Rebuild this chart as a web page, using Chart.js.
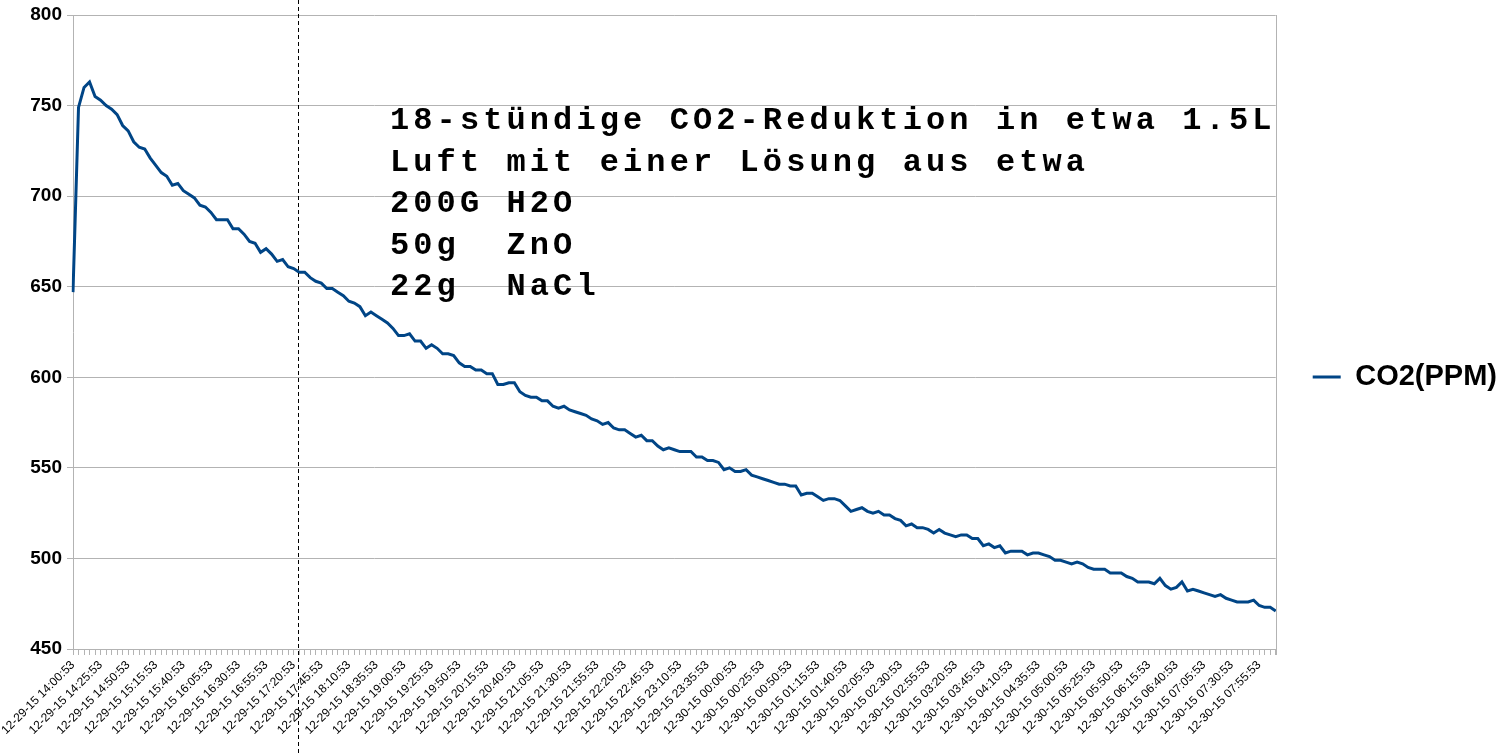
<!DOCTYPE html>
<html>
<head>
<meta charset="utf-8">
<title>CO2-Reduktion</title>
<script src="https://cdn.jsdelivr.net/npm/chart.js@4.4.0/dist/chart.umd.min.js"></script>
<style>
  html, body { margin: 0; padding: 0; background: #fff; }
  #wrap { position: relative; width: 1508px; height: 755px; }
</style>
</head>
<body>
<div id="wrap"><canvas id="co2Chart"></canvas></div>
<script>
// --- Daten (alle 5 Minuten ein Messwert) ---
const seriesName = 'CO2(PPM)';
const co2Values = [
  647, 749, 760, 763, 755, 753, 750, 748, 745, 739,
  736, 730, 727, 726, 721, 717, 713, 711, 706, 707,
  703, 701, 699, 695, 694, 691, 687, 687, 687, 682,
  682, 679, 675, 674, 669, 671, 668, 664, 665, 661,
  660, 658, 658, 655, 653, 652, 649, 649, 647, 645,
  642, 641, 639, 634, 636, 634, 632, 630, 627, 623,
  623, 624, 620, 620, 616, 618, 616, 613, 613, 612,
  608, 606, 606, 604, 604, 602, 602, 596, 596, 597,
  597, 592, 590, 589, 589, 587, 587, 584, 583, 584,
  582, 581, 580, 579, 577, 576, 574, 575, 572, 571,
  571, 569, 567, 568, 565, 565, 562, 560, 561, 560,
  559, 559, 559, 556, 556, 554, 554, 553, 549, 550,
  548, 548, 549, 546, 545, 544, 543, 542, 541, 541,
  540, 540, 535, 536, 536, 534, 532, 533, 533, 532,
  529, 526, 527, 528, 526, 525, 526, 524, 524, 522,
  521, 518, 519, 517, 517, 516, 514, 516, 514, 513,
  512, 513, 513, 511, 511, 507, 508, 506, 507, 503,
  504, 504, 504, 502, 503, 503, 502, 501, 499, 499,
  498, 497, 498, 497, 495, 494, 494, 494, 492, 492,
  492, 490, 489, 487, 487, 487, 486, 489, 485, 483,
  484, 487, 482, 483, 482, 481, 480, 479, 480, 478,
  477, 476, 476, 476, 477, 474, 473, 473, 471
];
const yTicks = [450, 500, 550, 600, 650, 700, 750, 800];
const labelEvery = 5;          // jede 5. Kategorie bekommt eine Beschriftung
const markerIndex = 41;        // gestrichelte Linie (12-29-15 17:25:53)
const noteLines = [
  '18-stündige CO2-Reduktion in etwa 1.5L',
  'Luft mit einer Lösung aus etwa',
  '200G H2O',
  '50g  ZnO',
  '22g  NaCl'
];

// Zeitstempel 12-29-15 14:00:53, dann alle 5 Minuten
function buildTimeLabels(count) {
  const labels = [];
  for (let i = 0; i < count; i++) {
    const mins = 14 * 60 + i * 5;
    const day = mins >= 1440 ? 30 : 29;
    const m = mins % 1440;
    const hh = String(Math.floor(m / 60)).padStart(2, '0');
    const mm = String(m % 60).padStart(2, '0');
    labels.push(`12-${day}-15 ${hh}:${mm}:53`);
  }
  return labels;
}
const timeLabels = buildTimeLabels(co2Values.length);

const gridColor = '#b3b3b3';
const lineColor = '#004586';

/* --- Plugins --- */

// rechter Rahmen der Zeichenfläche
const plotFrame = {
  id: 'plotFrame',
  afterDraw(chart) {
    const { ctx, chartArea } = chart;
    const x = Math.round(chartArea.right) + 0.5;
    ctx.save();
    ctx.strokeStyle = gridColor;
    ctx.lineWidth = 1;
    ctx.beginPath();
    ctx.moveTo(x, chartArea.top);
    ctx.lineTo(x, chartArea.bottom + 6);
    ctx.stroke();
    ctx.restore();
  }
};

// gestrichelte senkrechte Linie über die ganze Höhe
const markerLine = {
  id: 'markerLine',
  afterDraw(chart) {
    const { ctx } = chart;
    const x = Math.round(chart.scales.x.getPixelForValue(markerIndex)) - 0.5;
    ctx.save();
    ctx.strokeStyle = '#000';
    ctx.lineWidth = 1;
    ctx.setLineDash([4, 3]);
    ctx.beginPath();
    ctx.moveTo(x, 0);
    ctx.lineTo(x, chart.height);
    ctx.stroke();
    ctx.restore();
  }
};

// Beschreibungstext im Diagramm
const noteText = {
  id: 'noteText',
  afterDraw(chart) {
    const { ctx } = chart;
    ctx.save();
    ctx.fillStyle = '#000';
    ctx.font = 'bold 32px "Liberation Mono", "Courier New", monospace';
    ctx.letterSpacing = '4.1px';
    ctx.textBaseline = 'alphabetic';
    noteLines.forEach((line, i) => {
      ctx.fillText(line, 390, 129 + i * 41.5);
    });
    ctx.restore();
  }
};

/* --- Diagramm --- */

new Chart(document.getElementById('co2Chart'), {
  type: 'line',
  data: {
    labels: timeLabels,
    datasets: [{
      label: seriesName,
      data: co2Values,
      borderColor: lineColor,
      backgroundColor: lineColor,
      borderWidth: 3,
      pointRadius: 0,
      tension: 0,
      fill: false
    }]
  },
  options: {
    responsive: true,
    maintainAspectRatio: false,
    animation: false,
    layout: { padding: { top: 15, right: 1, bottom: 16, left: 0 } },
    plugins: {
      tooltip: { enabled: false },
      legend: {
        position: 'right',
        labels: {
          boxWidth: 28,
          boxHeight: 3,
          padding: 37,
          color: '#000',
          font: { family: '"Liberation Sans", Arial, sans-serif', size: 29, weight: 'bold' },
          generateLabels(chart) {
            const items = Chart.defaults.plugins.legend.labels.generateLabels(chart);
            items.forEach(it => { it.lineWidth = 0; });
            return items;
          }
        }
      }
    },
    scales: {
      x: {
        type: 'category',
        grid: { drawOnChartArea: false, drawTicks: true, tickLength: 6, color: gridColor },
        border: { color: gridColor },
        ticks: {
          autoSkip: false,
          maxRotation: 45,
          minRotation: 45,
          color: '#000',
          font: { family: '"Liberation Sans", Arial, sans-serif', size: 12 },
          callback(val, i) {
            return i % labelEvery === 0 ? this.getLabelForValue(val) : '';
          }
        },
        afterFit(scale) {
          scale.height = 90;
          scale.paddingLeft = 0;
          scale.paddingRight = 0;
        }
      },
      y: {
        min: yTicks[0],
        max: yTicks[yTicks.length - 1],
        grid: { color: gridColor, tickLength: 6 },
        border: { color: gridColor },
        ticks: {
          stepSize: 50,
          padding: 5,
          color: '#000',
          font: { family: '"Liberation Sans", Arial, sans-serif', size: 19, weight: 'bold' }
        },
        afterFit(scale) {
          scale.width = 73;
          scale.paddingTop = 0;
          scale.paddingBottom = 0;
        }
      }
    }
  },
  plugins: [plotFrame, markerLine, noteText]
});
</script>
</body>
</html>
